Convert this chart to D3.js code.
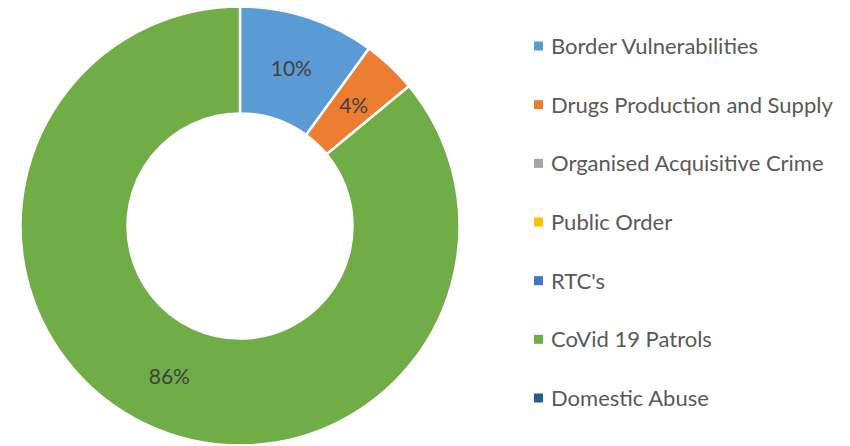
<html>
<head>
<script src="https://cdn.jsdelivr.net/npm/d3@7"></script>
<style>
body { margin: 0; background: #fff; }
text { font-family: Lato, "Open Sans", sans-serif; }
</style>
</head>
<body>
<div id="chart"></div>
<script>
var categories = ["Border Vulnerabilities", "Drugs Production and Supply", "Organised Acquisitive Crime",
                  "Public Order", "RTC's", "CoVid 19 Patrols", "Domestic Abuse"];
var values = [10, 4, 0, 0, 0, 86, 0];
var colors = ["#5B9BD5", "#ED7D31", "#A5A5A5", "#FFC000", "#4472C4", "#70AD47", "#255E91"];

var width = 850, height = 446;
var cx = 240, cy = 226, outerR = 219.5, innerR = 112.5;

var svg = d3.select("#chart").append("svg")
  .attr("width", width)
  .attr("height", height);

var data = categories.map(function(c, i) { return { name: c, value: values[i], color: colors[i] } });

var pie = d3.pie().sort(null).value(function(d) { return d.value });
var arc = d3.arc().innerRadius(innerR).outerRadius(outerR);
var labelArc = d3.arc().innerRadius(166).outerRadius(166);

var g = svg.append("g").attr("transform", "translate(" + cx + "," + cy + ")");
var slices = pie(data).filter(function(d) { return d.data.value > 0 });

g.selectAll("path").data(slices).enter().append("path")
  .attr("d", arc)
  .attr("fill", function(d) { return d.data.color })
  .attr("stroke", "#fff")
  .attr("stroke-width", 2.5);

g.selectAll("text").data(slices).enter().append("text")
  .attr("transform", function(d) { return "translate(" + labelArc.centroid(d) + ")" })
  .attr("text-anchor", "middle")
  .attr("dy", "0.36em")
  .attr("font-size", 21)
  .attr("fill", "#404040")
  .text(function(d) { return d.data.value + "%" });

// legend
var y = d3.scalePoint().domain(categories).range([46, 398]);
var leg = svg.append("g").selectAll("g").data(data).enter().append("g")
  .attr("transform", function(d) { return "translate(534," + y(d.name) + ")" });

leg.append("rect")
  .attr("x", 0).attr("y", -4.5)
  .attr("width", 9).attr("height", 9)
  .attr("fill", function(d) { return d.color });

leg.append("text")
  .attr("x", 17)
  .attr("dy", "0.36em")
  .attr("font-size", 22)
  .attr("fill", "#595959")
  .text(function(d) { return d.name });
</script>
</body>
</html>
